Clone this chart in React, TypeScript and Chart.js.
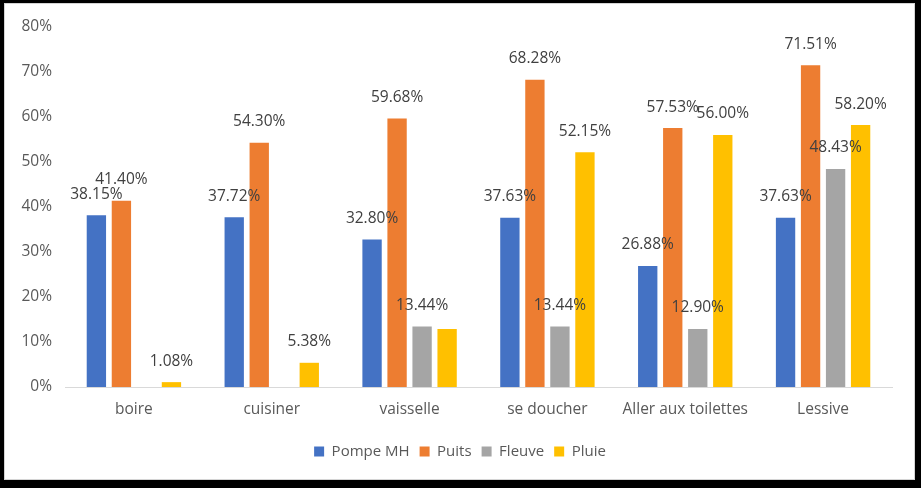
import React, { useEffect, useRef } from "react";
import { Chart, registerables } from "chart.js";

Chart.register(...registerables);

const categories = ["boire", "cuisiner", "vaisselle", "se doucher", "Aller aux toilettes", "Lessive"];
const seriesNames = ["Pompe MH", "Puits", "Fleuve", "Pluie"];
const pompeMH = [38.15, 37.72, 32.8, 37.63, 26.88, 37.63];
const puits = [41.4, 54.3, 59.68, 68.28, 57.53, 71.51];
const fleuve = [null, null, 13.44, 13.44, 12.9, 48.43];
const pluie = [1.08, 5.38, 12.9, 52.15, 56.0, 58.2];
const seriesColors = ["#4472C4", "#ED7D31", "#A5A5A5", "#FFC000"];
const hiddenLabels = [{ series: "Pluie", category: "vaisselle" }];
const yMin = 0;
const yMax = 80;
const yStep = 10;

const FONT = "'Open Sans', sans-serif";

const valueLabels = {
  id: "valueLabels",
  beforeDraw(chart: any) {
    if (chart.legend) chart.legend.left = 28;
  },
  afterDatasetsDraw(chart: any) {
    const ctx = chart.ctx;
    ctx.save();
    ctx.font = `15.5px ${FONT}`;
    ctx.fillStyle = "#404040";
    ctx.textAlign = "center";
    ctx.textBaseline = "middle";
    chart.data.datasets.forEach((ds: any, di: number) => {
      const meta = chart.getDatasetMeta(di);
      meta.data.forEach((el: any, i: number) => {
        const v = ds.data[i];
        if (v == null) return;
        const cat = chart.data.labels[i];
        if (hiddenLabels.some((h) => h.series === ds.label && h.category === cat)) return;
        ctx.fillText(v.toFixed(2) + "%", el.x, el.y - 21);
      });
    });
    ctx.restore();
  },
};

export default function App() {
  const ref = useRef<HTMLCanvasElement | null>(null);
  useEffect(() => {
    document.body.style.margin = "0";
    const data = [pompeMH, puits, fleuve, pluie];
    const chart = new Chart(ref.current as HTMLCanvasElement, {
      type: "bar",
      data: {
        labels: categories,
        datasets: seriesNames.map((name, i) => ({
          label: name,
          data: data[i] as any,
          backgroundColor: seriesColors[i],
          borderWidth: 0,
          categoryPercentage: 0.726,
          barPercentage: 0.773,
        })),
      },
      options: {
        animation: false,
        responsive: false,
        layout: { padding: { left: 0, right: 29, top: 27, bottom: 19 } },
        plugins: {
          tooltip: { enabled: false },
          legend: {
            position: "bottom",
            labels: {
              boxWidth: 10,
              boxHeight: 10,
              padding: 10,
              color: "#595959",
              font: { family: FONT, size: 15 },
            },
          },
        },
        scales: {
          x: {
            grid: { display: false, drawTicks: false },
            border: { display: true, color: "#D9D9D9", width: 1 },
            ticks: { color: "#595959", font: { family: FONT, size: 15.5 }, padding: 13, maxRotation: 0 },
            afterFit: (s: any) => {
              s.height = 47;
            },
          },
          y: {
            min: yMin,
            max: yMax,
            grid: { display: false, drawTicks: false },
            border: { display: false },
            ticks: {
              stepSize: yStep,
              color: "#595959",
              font: { family: FONT, size: 15.5 },
              padding: 13,
              callback: (v: any) => v + "%",
            },
            afterFit: (s: any) => {
              s.width = 65;
            },
          },
        },
      },
      plugins: [valueLabels],
    });
    return () => chart.destroy();
  }, []);

  return (
    <div style={{ position: "fixed", left: 0, top: 0, width: 921, height: 488, background: "#000" }}>
      <div
        style={{
          position: "absolute",
          left: 4,
          top: 3,
          width: 911,
          height: 477,
          boxSizing: "border-box",
          background: "#fff",
          border: "1px solid #D4D4D4",
        }}
      />
      <canvas ref={ref} width={921} height={488} style={{ position: "absolute", left: 0, top: 0, display: "block" }} />
    </div>
  );
}
